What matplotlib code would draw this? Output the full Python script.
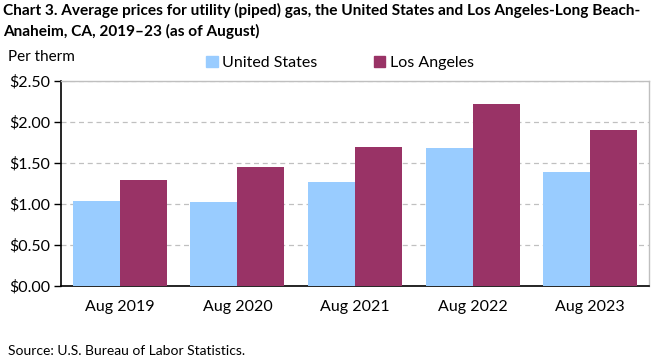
import matplotlib
matplotlib.use("Agg")
import matplotlib.pyplot as plt
import numpy as np
from matplotlib.patches import Patch

# ── Data ──────────────────────────────────────────────────────────────────────
categories = ["Aug 2019", "Aug 2020", "Aug 2021", "Aug 2022", "Aug 2023"]
us_prices = [1.032, 1.020, 1.263, 1.688, 1.396]
la_prices = [1.287, 1.457, 1.700, 2.222, 1.906]
yticks = [0.0, 0.5, 1.0, 1.5, 2.0, 2.5]

US_COLOR = "#99CCFF"
LA_COLOR = "#993366"

plt.rcParams["font.family"] = ["Lato", "DejaVu Sans"]

fig = plt.figure(figsize=(6.61, 3.61), dpi=100)
ax = fig.add_axes([61 / 661, 1 - 286 / 361, 588 / 661, 205 / 361])

x = np.arange(len(categories))
w = 0.4
ax.bar(x - w / 2, us_prices, width=w, color=US_COLOR, zorder=3)
ax.bar(x + w / 2, la_prices, width=w, color=LA_COLOR, zorder=3)

ax.set_xlim(-0.5, len(categories) - 0.5)
ax.set_ylim(0, 2.5)
ax.set_yticks(yticks)
ax.set_yticklabels([f"${v:.2f}" for v in yticks], fontsize=11.5)
ax.set_xticks(x)
ax.set_xticklabels(categories, fontsize=11.5)
ax.tick_params(axis="x", length=0, pad=10)
ax.tick_params(axis="y", length=5, width=1, direction="out", pad=3)

ax.yaxis.grid(True, color="#C0C0C0", linestyle=(0, (4, 3)), linewidth=0.9, zorder=0)
for s in ["left", "bottom"]:
    ax.spines[s].set_color("black")
    ax.spines[s].set_linewidth(1.2)
for s in ["top", "right"]:
    ax.spines[s].set_color("#BFBFBF")
    ax.spines[s].set_linewidth(1.0)

fig.text(3 / 661, 1 - 3 / 361,
         "Chart 3. Average prices for utility (piped) gas, the United States and Los Angeles-Long Beach-\n"
         "Anaheim, CA, 2019\u201323 (as of August)",
         fontsize=11.1, fontweight="bold", va="top", ha="left", linespacing=1.45)
fig.text(8 / 661, 1 - 57 / 361, "Per therm", fontsize=11, va="center", ha="left")
fig.text(8 / 661, 1 - 351 / 361, "Source: U.S. Bureau of Labor Statistics.",
         fontsize=10, va="center", ha="left")

handles = [Patch(color=US_COLOR, label="United States"),
           Patch(color=LA_COLOR, label="Los Angeles")]
fig.legend(handles=handles, loc="center", bbox_to_anchor=(340 / 661, 1 - 63 / 361),
           ncol=2, frameon=False, fontsize=11.5, handlelength=0.7, handleheight=0.7,
           handletextpad=0.3, columnspacing=3.5)

fig.savefig("out.png", dpi=100)
